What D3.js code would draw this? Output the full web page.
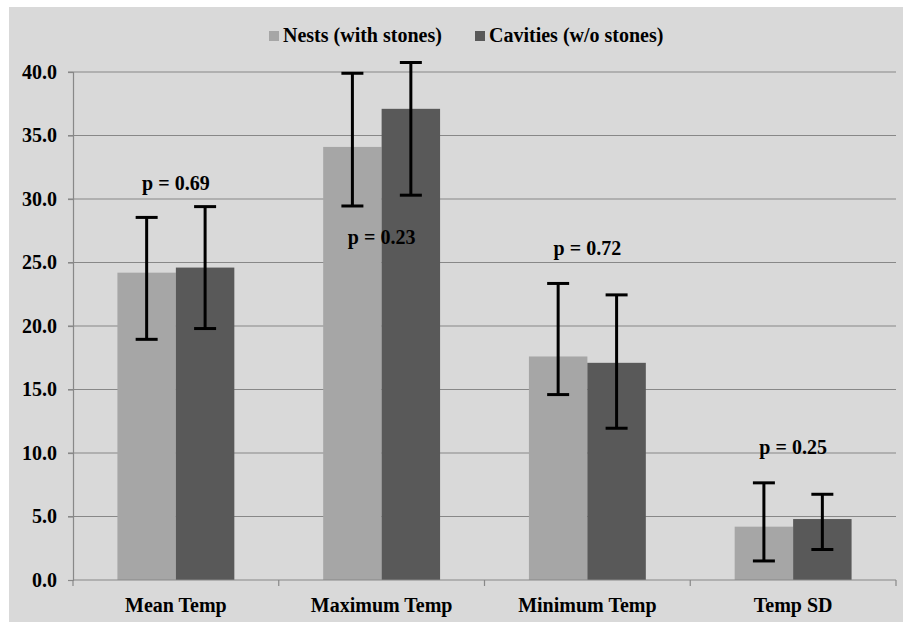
<!DOCTYPE html>
<html>
<head>
<meta charset="utf-8">
<script src="https://cdn.jsdelivr.net/npm/d3@7"></script>
<style>
  body { margin: 0; background: #ffffff; overflow: hidden; }
  svg text { font-family: "Times New Roman", "Liberation Serif", "DejaVu Serif", serif !important; font-weight: bold; font-size: 20px; fill: #000; }
</style>
</head>
<body>
<div id="chart"></div>
<script>
// Temperature summaries for nests vs cavities
const categories = ["Mean Temp", "Maximum Temp", "Minimum Temp", "Temp SD"];
const seriesNames = ["Nests (with stones)", "Cavities (w/o stones)"];
const nestValues = [24.2, 34.1, 17.6, 4.2];
const cavityValues = [24.6, 37.1, 17.1, 4.8];
const nestHigh = [28.55, 39.9, 23.35, 7.65];
const nestLow = [18.95, 29.45, 14.6, 1.5];
const cavityHigh = [29.4, 40.75, 22.45, 6.75];
const cavityLow = [19.8, 30.3, 11.95, 2.4];
const pLabels = ["p = 0.69", "p = 0.23", "p = 0.72", "p = 0.25"];
const pLabelY = [30.7, 26.45, 25.6, 9.95];
const yTicks = [0, 5, 10, 15, 20, 25, 30, 35, 40];

const W = 903, H = 622;
const FONT = "'Times New Roman', 'Liberation Serif', 'DejaVu Serif', serif";
const colors = ["#a6a6a6", "#595959"];
const plot = { left: 73, right: 896, top: 72, bottom: 580 };

const svg = d3.select("#chart").append("svg")
    .attr("width", W)
    .attr("height", H)
    .style("display", "block");

// chart area background
svg.append("rect")
    .attr("x", 9).attr("y", 7)
    .attr("width", W - 9).attr("height", H - 7)
    .attr("fill", "#d9d9d9");

const x0 = d3.scaleBand().domain(categories).range([plot.left, plot.right]);
const x1 = d3.scaleBand().domain([0, 1]).range([0, x0.bandwidth()]).paddingOuter(0.76);
const y = d3.scaleLinear().domain([0, 40]).range([plot.bottom, plot.top]);

// gridlines
svg.append("g")
    .selectAll("line")
    .data(yTicks.filter(d => d > 0))
    .join("line")
    .attr("x1", plot.left - 5).attr("x2", plot.right)
    .attr("y1", d => y(d)).attr("y2", d => y(d))
    .attr("stroke", "#888888")
    .attr("stroke-width", 1.2);

// y axis
const yAxis = svg.append("g")
    .attr("transform", `translate(${plot.left},0)`)
    .call(d3.axisLeft(y).tickValues(yTicks).tickFormat(d3.format(".1f")).tickSize(5).tickPadding(11))
    .attr("font-family", FONT)
    .attr("font-size", 20);
yAxis.select(".domain").attr("stroke", "#888888").attr("stroke-width", 1.2);
yAxis.selectAll(".tick line").attr("stroke", "#888888").attr("stroke-width", 1.2);

const rows = categories.map((c, i) => ({
    cat: c,
    vals: [nestValues[i], cavityValues[i]],
    hi: [nestHigh[i], cavityHigh[i]],
    lo: [nestLow[i], cavityLow[i]]
}));

// bars
const groups = svg.append("g")
    .selectAll("g")
    .data(rows)
    .join("g")
    .attr("transform", d => `translate(${x0(d.cat)},0)`);

groups.selectAll("rect")
    .data(d => d.vals.map((v, k) => ({ k, v })))
    .join("rect")
    .attr("x", d => x1(d.k))
    .attr("width", x1.bandwidth())
    .attr("y", d => y(d.v))
    .attr("height", d => y(0) - y(d.v))
    .attr("fill", d => colors[d.k]);

// x axis (after bars so the baseline sits on top)
const xAxis = svg.append("g")
    .attr("transform", `translate(0,${plot.bottom})`);
xAxis.append("line")
    .attr("x1", plot.left).attr("x2", plot.right)
    .attr("stroke", "#888888").attr("stroke-width", 1.2);
xAxis.selectAll(".tk")
    .data(categories.map(c => x0(c)).concat([plot.right]))
    .join("line")
    .attr("class", "tk")
    .attr("x1", d => d).attr("x2", d => d)
    .attr("y1", 0).attr("y2", 6)
    .attr("stroke", "#888888").attr("stroke-width", 1.2);
xAxis.selectAll("text")
    .data(categories)
    .join("text")
    .attr("x", d => x0(d) + x0.bandwidth() / 2)
    .attr("y", 32)
    .attr("text-anchor", "middle")
    .attr("font-family", FONT)
    .text(d => d);

// error bars
const capW = 22;
const err = groups.selectAll("g.err")
    .data(d => d.vals.map((v, k) => ({ k, hi: d.hi[k], lo: d.lo[k] })))
    .join("g")
    .attr("class", "err")
    .attr("stroke", "#000")
    .attr("stroke-width", 3);
err.append("line")
    .attr("x1", d => x1(d.k) + x1.bandwidth() / 2)
    .attr("x2", d => x1(d.k) + x1.bandwidth() / 2)
    .attr("y1", d => y(d.hi)).attr("y2", d => y(d.lo));
err.selectAll("line.cap")
    .data(d => [d.hi, d.lo].map(v => ({ k: d.k, v })))
    .join("line")
    .attr("class", "cap")
    .attr("x1", d => x1(d.k) + x1.bandwidth() / 2 - capW / 2)
    .attr("x2", d => x1(d.k) + x1.bandwidth() / 2 + capW / 2)
    .attr("y1", d => y(d.v)).attr("y2", d => y(d.v));

// p-value annotations
svg.append("g")
    .selectAll("text")
    .data(categories)
    .join("text")
    .attr("x", d => x0(d) + x0.bandwidth() / 2)
    .attr("y", (d, i) => y(pLabelY[i]))
    .attr("text-anchor", "middle")
    .attr("font-family", FONT)
    .text((d, i) => pLabels[i]);

// legend
const legendX = [269, 475];
const legend = svg.append("g")
    .selectAll("g")
    .data(seriesNames)
    .join("g")
    .attr("transform", (d, i) => `translate(${legendX[i]},31)`);
legend.append("rect")
    .attr("width", 10).attr("height", 10)
    .attr("fill", (d, i) => colors[i]);
legend.append("text")
    .attr("x", 14).attr("y", 11)
    .attr("font-family", FONT)
    .text(d => d);
</script>
</body>
</html>
